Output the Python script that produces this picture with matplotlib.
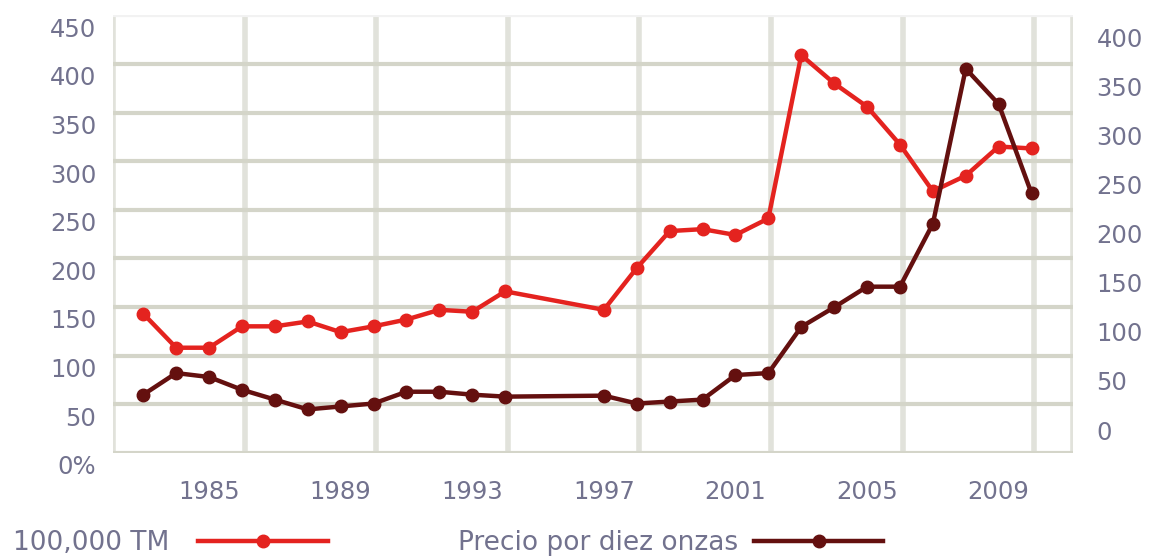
import numpy as np
import matplotlib
matplotlib.use('Agg')
import matplotlib.pyplot as plt
import matplotlib.transforms as mtransforms

years = [1983, 1984, 1985, 1986, 1987, 1988, 1989, 1990, 1991, 1992, 1993, 1994,
         1997, 1998, 1999, 2000, 2001, 2002, 2003, 2004, 2005, 2006, 2007, 2008, 2009, 2010]
tm = [143, 108, 108, 130, 130, 135, 124, 130, 137, 147, 145, 166,
      147, 190, 228, 230, 224, 241, 409, 380, 356, 317, 269, 285, 315, 313]
precio = [36, 58, 54, 41, 31, 21, 24, 27, 39, 39, 36, 34,
          35, 27, 29, 31, 56, 58, 105, 125, 146, 146, 210, 368, 332, 241]
year_labels = [1985, 1989, 1993, 1997, 2001, 2005, 2009]
left_ticks = list(range(0, 451, 50))
left_labels = ['0%'] + [str(v) for v in left_ticks[1:]]
right_ticks = list(range(0, 401, 50))

red = '#e4231f'
dark = '#64100f'
txt = '#72728e'
fs = 17.5
fs_leg = 19

fig = plt.figure(figsize=(11.57, 5.58), dpi=100)
ax = fig.add_axes([113 / 1157, 1 - 452.7 / 558, 960 / 1157, 437.4 / 558])
ax2 = ax.twinx()

x0, x1 = 1982.08, 2011.26
ax.set_xlim(x0, x1)
ax.set_ylim(0, 450)
ax2.set_ylim(-23.1, 422.4)

# rejilla
for xv in np.arange(x0, x1, 4):
    ax.axvline(xv, color='#e1e2db', lw=4, zorder=0)
ax.axvline(x1, color='#e1e2db', lw=4, zorder=0)
for yv in left_ticks[:-1]:
    ax.axhline(yv, color='#d4d5c9', lw=3, zorder=0.5)
ax.axhline(450, color='#f2f2f2', lw=3, zorder=0.5)

l1, = ax.plot(years, tm, '-o', color=red, lw=3.2, ms=9, label='100,000 TM', zorder=3)
l2, = ax2.plot(years, precio, '-o', color=dark, lw=3.2, ms=9, label='Precio por diez onzas', zorder=3)

for a in (ax, ax2):
    for s in a.spines.values():
        s.set_visible(False)

ax.set_xticks(year_labels)
ax.set_xticklabels([str(y) for y in year_labels])
ax.tick_params(axis='x', length=0, pad=20, labelsize=fs, labelcolor=txt)

ax.set_yticks(left_ticks)
ax.set_yticklabels(left_labels)
ax.tick_params(axis='y', length=0, pad=12, labelsize=fs, labelcolor=txt)
off = mtransforms.ScaledTranslation(0, -0.12, fig.dpi_scale_trans)
for lab in ax.get_yticklabels():
    lab.set_transform(lab.get_transform() + off)

ax2.set_yticks(right_ticks)
ax2.set_yticklabels([str(v) for v in right_ticks])
ax2.tick_params(axis='y', length=0, pad=17, labelsize=fs, labelcolor=txt)
for lab in ax2.get_yticklabels():
    lab.set_horizontalalignment('left')

ley_y = 1 - 543 / 558
fig.legend(handles=[l1], loc='center left', bbox_to_anchor=(13 / 1157, ley_y),
           frameon=False, markerfirst=False, fontsize=fs_leg, labelcolor=txt,
           handlelength=4.9, handletextpad=1.1, borderpad=0, borderaxespad=0)
fig.legend(handles=[l2], loc='center left', bbox_to_anchor=(458 / 1157, ley_y),
           frameon=False, markerfirst=False, fontsize=fs_leg, labelcolor=txt,
           handlelength=4.9, handletextpad=0.6, borderpad=0, borderaxespad=0)

fig.savefig('out.png', dpi=100)
